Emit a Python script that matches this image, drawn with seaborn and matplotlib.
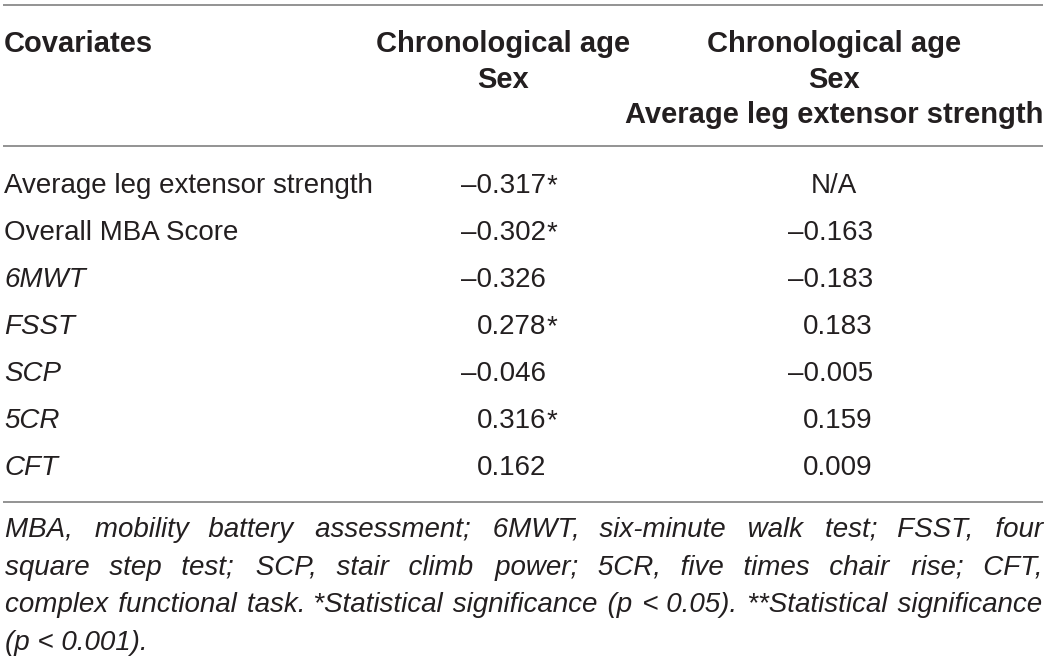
import matplotlib
matplotlib.use("Agg")
import matplotlib.pyplot as plt
import seaborn as sns

# table content
header_col1 = "Covariates"
header_col2 = ["Chronological age", "Sex"]
header_col3 = ["Chronological age", "Sex", "Average leg extensor strength"]

covariates = ["Average leg extensor strength", "Overall MBA Score",
              "6MWT", "FSST", "SCP", "5CR", "CFT"]
italic_label = [False, False, True, True, True, True, True]

r_age_sex = [-0.317, -0.302, -0.326, 0.278, -0.046, 0.316, 0.162]
sig_age_sex = [True, True, False, True, False, True, False]
r_age_sex_strength = [None, -0.163, -0.183, 0.183, -0.005, 0.159, 0.009]

footnote_lines = [
    "MBA, mobility battery assessment; 6MWT, six-minute walk test; FSST, four",
    "square step test; SCP, stair climb power; 5CR, five times chair rise; CFT,",
    "complex functional task. *Statistical significance (p < 0.05). **Statistical significance",
    "(p < 0.001).",
]


def fmt(v):
    # the source table sets the minus as a long dash
    return f"{v:.3f}".replace("-", "\u2013")


sns.set_theme(style="white")
plt.rcParams["font.family"] = ["Liberation Sans", "DejaVu Sans"]

TXT = "#231f20"
RULE = "#8a8a8a"
W, H = 1046, 662
DPI = 100

fig = plt.figure(figsize=(W / DPI, H / DPI), dpi=DPI)
ax = fig.add_axes([0, 0, 1, 1])
ax.set_xlim(0, W)
ax.set_ylim(H, 0)
ax.axis("off")

left, right = 3, 1043
col2_num_right = 546
col3_center = 834
col3_num_right = 873

# rules
ax.hlines([5, 146, 502], left, right, color=RULE, lw=1.3)

# header
hdr = dict(fontsize=21, fontweight="bold", color=TXT, va="baseline")
ax.text(left + 1, 52, header_col1, ha="left", **hdr)
for i, s in enumerate(header_col2):
    ax.text(503, round(52 + 35.5 * i), s, ha="center", **hdr)
for i, s in enumerate(header_col3):
    ax.text(col3_center, round(52 + 35.5 * i), s, ha="center", **hdr)

# body
body = dict(fontsize=20, color=TXT, va="baseline")
for i, name in enumerate(covariates):
    y = 193 + 47 * i
    ax.text(left + 1, y, name, ha="left",
            style="italic" if italic_label[i] else "normal", **body)
    ax.text(col2_num_right, y, fmt(r_age_sex[i]), ha="right", **body)
    if sig_age_sex[i]:
        ax.text(col2_num_right + 1, y, "*", ha="left", **body)
    v = r_age_sex_strength[i]
    if v is None:
        ax.text(col3_center, y, "N/A", ha="center", **body)
    else:
        ax.text(col3_num_right, y, fmt(v), ha="right", **body)

# justified footnote: pad the word gaps with hair spaces, one text per line
foot = dict(fontsize=20, style="italic", color=TXT, va="baseline", ha="left")
fig.canvas.draw()
renderer = fig.canvas.get_renderer()


def text_width(s):
    t = ax.text(0, 0, s, **foot)
    w = t.get_window_extent(renderer).width
    t.remove()
    return w


HAIR = "\u200a"
hair_w = (text_width("x" + HAIR * 20 + "x") - text_width("xx")) / 20
target = right - left - 2

for j, line in enumerate(footnote_lines):
    y = round(537 + 37.7 * j)
    words = line.split(" ")
    if j < len(footnote_lines) - 1 and hair_w > 0:
        n_gaps = len(words) - 1
        total = max(round((target - text_width(line)) / hair_w), 0)
        out = words[0]
        for g in range(n_gaps):
            k = round((g + 1) * total / n_gaps) - round(g * total / n_gaps)
            out += " " + HAIR * k + words[g + 1]
        line = out
    ax.text(left + 2, y, line, **foot)

fig.savefig("out.png", dpi=DPI)
